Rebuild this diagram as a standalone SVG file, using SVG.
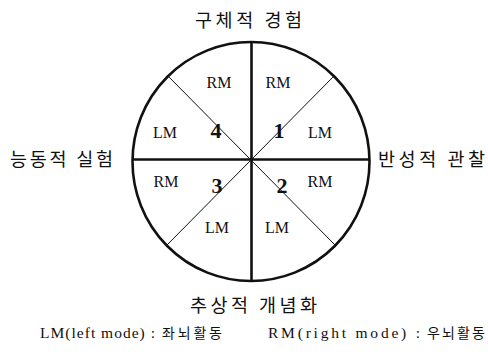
<svg xmlns="http://www.w3.org/2000/svg" width="488" height="358" viewBox="0 0 488 358">
<style>
.ko{font-family:"Noto Sans CJK KR","Noto Sans",sans-serif;font-size:18.5px;fill:#111}
.m{font-family:"Liberation Serif",serif;font-size:16px;fill:#111;text-anchor:middle}
.n{font-family:"Liberation Serif",serif;font-size:22px;font-weight:bold;fill:#111;text-anchor:middle}
.lg{font-family:"Liberation Serif",serif;font-size:15.5px;fill:#111}
.lk{font-family:"Noto Sans CJK KR",sans-serif;font-size:14px;fill:#111}
.thick{stroke:#111;stroke-width:2.6;fill:none}
.thin{stroke:#111;stroke-width:1;fill:none}
</style>
<rect width="488" height="358" fill="#fff"/>
<g id="circle">
<ellipse cx="251" cy="161.5" rx="118.5" ry="119.5" class="thick"/>
</g>
<g id="connectors">
<line x1="251.5" y1="42" x2="251.5" y2="282" class="thick"/>
<line x1="132" y1="159.5" x2="370" y2="159.5" class="thick"/>
<line x1="167" y1="75" x2="335" y2="245" class="thin"/>
<line x1="335" y1="75" x2="167" y2="245" class="thin"/>
</g>
<g id="top-label"><text class="ko" x="195" y="27" textLength="107" lengthAdjust="spacing">구체적 경험</text></g>
<g id="left-label"><text class="ko" x="10" y="166" textLength="103" lengthAdjust="spacing">능동적 실험</text></g>
<g id="right-label"><text class="ko" x="378" y="166" textLength="107" lengthAdjust="spacing">반성적 관찰</text></g>
<g id="bottom-label"><text class="ko" x="190" y="312" textLength="127" lengthAdjust="spacing">추상적 개념화</text></g>
<g id="q4">
<text class="m" x="219" y="88">RM</text>
<text class="m" x="165" y="138">LM</text>
<text class="n" x="216" y="138">4</text>
</g>
<g id="q1">
<text class="m" x="278" y="88">RM</text>
<text class="m" x="320" y="138">LM</text>
<text class="n" x="279" y="138">1</text>
</g>
<g id="q3">
<text class="m" x="166" y="187">RM</text>
<text class="m" x="217" y="233">LM</text>
<text class="n" x="217" y="193">3</text>
</g>
<g id="q2">
<text class="m" x="320" y="187">RM</text>
<text class="m" x="277" y="233">LM</text>
<text class="n" x="282" y="193">2</text>
</g>
<g id="legend">
<text class="lg" x="40" y="338" textLength="115" lengthAdjust="spacing">LM(left mode) :</text>
<text class="lk" x="162" y="338" textLength="60" lengthAdjust="spacing">좌뇌활동</text>
<text class="lg" x="268" y="338" textLength="152" lengthAdjust="spacing">RM(right mode) :</text>
<text class="lk" x="427" y="338" textLength="58" lengthAdjust="spacing">우뇌활동</text>
</g>
</svg>
